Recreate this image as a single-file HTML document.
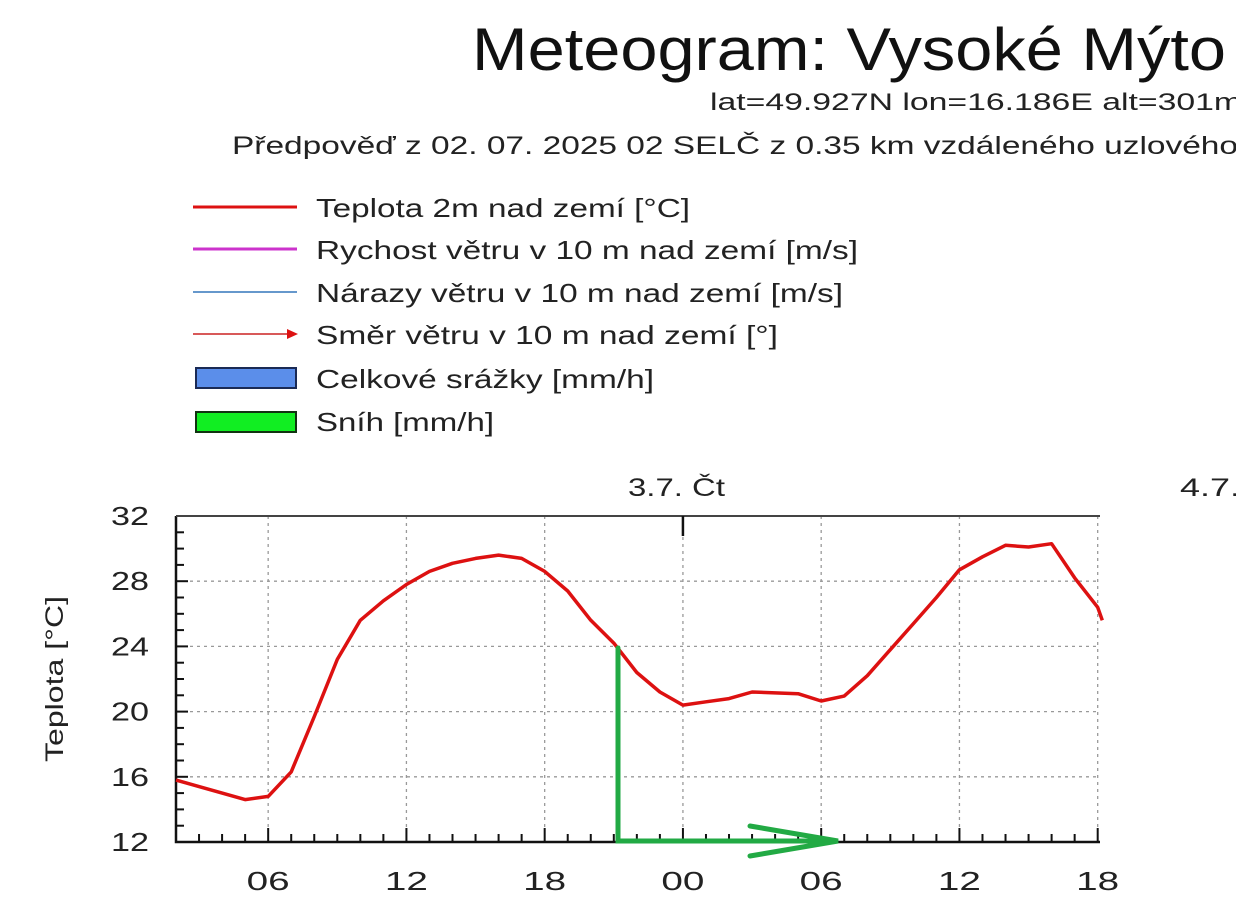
<!DOCTYPE html>
<html><head><meta charset="utf-8"><style>
body{margin:0;background:#fff;width:1236px;height:902px;overflow:hidden}
svg{font-family:"Liberation Sans",sans-serif}
</style></head><body>
<svg id="chart" width="1236" height="902" viewBox="0 0 1236 902" xmlns="http://www.w3.org/2000/svg">
<text x="472" y="70" font-size="60" fill="#111" textLength="754" lengthAdjust="spacingAndGlyphs">Meteogram: Vysoké Mýto</text>
<text x="710" y="110" font-size="24" fill="#222" textLength="532" lengthAdjust="spacingAndGlyphs">lat=49.927N lon=16.186E alt=301m</text>
<text x="232" y="154" font-size="25" fill="#222" textLength="1006" lengthAdjust="spacingAndGlyphs">Předpověď z 02. 07. 2025 02 SELČ z 0.35 km vzdáleného uzlového</text>
<g font-size="26" fill="#222">
 <g><line x1="193" y1="207" x2="297" y2="207" stroke="#dd1111" stroke-width="3"/><text x="316" y="217" textLength="374" lengthAdjust="spacingAndGlyphs">Teplota 2m nad zemí [°C]</text></g>
 <g><line x1="193" y1="249" x2="297" y2="249" stroke="#cc33cc" stroke-width="3"/><text x="316" y="259" textLength="542" lengthAdjust="spacingAndGlyphs">Rychost větru v 10 m nad zemí [m/s]</text></g>
 <g><line x1="193" y1="292" x2="297" y2="292" stroke="#3377bb" stroke-width="1.5"/><text x="316" y="302" textLength="527" lengthAdjust="spacingAndGlyphs">Nárazy větru v 10 m nad zemí [m/s]</text></g>
 <g><line x1="193" y1="334" x2="290" y2="334" stroke="#cc2222" stroke-width="1.5"/><polygon points="298,334 287,329 287,339" fill="#dd1111"/><text x="316" y="344" textLength="462" lengthAdjust="spacingAndGlyphs">Směr větru v 10 m nad zemí [°]</text></g>
 <g><rect x="196" y="368" width="100" height="20" fill="#5b8eea" stroke="#1a2a55" stroke-width="2"/><text x="316" y="388" textLength="338" lengthAdjust="spacingAndGlyphs">Celkové srážky [mm/h]</text></g>
 <g><rect x="196" y="412" width="100" height="20" fill="#11ee22" stroke="#113311" stroke-width="2"/><text x="316" y="431" textLength="178" lengthAdjust="spacingAndGlyphs">Sníh [mm/h]</text></g>
</g>
<text x="628" y="496" font-size="25" fill="#222" textLength="97" lengthAdjust="spacingAndGlyphs">3.7. Čt</text>
<text x="1180" y="496" font-size="25" fill="#222" textLength="60" lengthAdjust="spacingAndGlyphs">4.7.</text>
<text transform="translate(63,679) rotate(-90)" font-size="25" fill="#222" text-anchor="middle" textLength="166" lengthAdjust="spacingAndGlyphs">Teplota [°C]</text>
<g id="grid"></g><g id="axes"></g><g id="series"></g>
<g stroke="#22aa44" stroke-width="5" fill="none" stroke-linecap="round">
 <polyline points="618,648 618,841 835,841"/>
 <polyline points="750,826 838,841 750,856"/>
</g>
</svg>
<script>
const hours=[0,1,2,3,4,5,6,7,8,9,10,11,12,13,14,15,16,17,18,19,20,21,22,23,24,25,26,27,28,29,30,31,32,33,34,35,36,37,38,39,40,40.2];
const temps=[15.8,15.4,15.0,14.6,14.8,16.3,19.7,23.2,25.6,26.8,27.8,28.6,29.1,29.4,29.6,29.4,28.6,27.4,25.6,24.2,22.4,21.2,20.4,20.6,20.8,21.2,21.15,21.1,20.65,20.95,22.2,23.8,25.4,27.0,28.7,29.5,30.2,30.1,30.3,28.2,26.4,25.6];
const yTicks=[12,16,20,24,28,32];
const xTickLabels=["06","12","18","00","06","12","18"];
const xTickHours=[4,10,16,22,28,34,40];
const L=176,R=1100,T=516,B=842,H0=0,H1=40.1,Y0=12,Y1=32;
const x=h=>L+(h-H0)/(H1-H0)*(R-L);
const y=v=>B-(v-Y0)/(Y1-Y0)*(B-T);
const NS="http://www.w3.org/2000/svg";
function mk(tag,at,parent){const e=document.createElementNS(NS,tag);for(const k in at)e.setAttribute(k,at[k]);document.getElementById(parent).appendChild(e);return e;}
yTicks.forEach(v=>{if(v>Y0&&v<Y1){const g=mk('line',{x1:L,x2:R,y1:y(v),y2:y(v),stroke:'#999','stroke-dasharray':'3,4','stroke-width':1.3},'grid');

}});
xTickHours.forEach(h=>{const g=mk('line',{x1:x(h),x2:x(h),y1:T,y2:B,stroke:'#999','stroke-dasharray':'3,4','stroke-width':1.3},'grid');

});
const frame=mk('polyline',{points:`${L},${T} ${L},${B} ${R},${B}`,fill:'none',stroke:'#111','stroke-width':2.5},'axes');


const topB=mk('line',{x1:L,x2:R,y1:T,y2:T,stroke:'#444','stroke-width':2},'axes');


for(let v=Y0+1;v<Y1;v++){const major=(v%4===0);const t=mk('line',{x1:L,x2:L+(major?12:8),y1:y(v),y2:y(v),stroke:'#111','stroke-width':2},'axes');

}
yTicks.forEach(v=>{const t=mk('text',{x:149,y:y(v)+9,'font-size':26,'text-anchor':'end',fill:'#222',textLength:38,lengthAdjust:'spacingAndGlyphs'},'axes');t.textContent=v;

});
for(let h=1;h<=40;h++){const major=xTickHours.includes(h);const t=mk('line',{x1:x(h),x2:x(h),y1:B,y2:B-(major?14:8),stroke:'#111','stroke-width':2},'axes');

}
const mid=mk('line',{x1:x(22),x2:x(22),y1:T,y2:T+20,stroke:'#111','stroke-width':2.5},'axes');


xTickLabels.forEach((s,i)=>{const t=mk('text',{x:x(xTickHours[i]),y:890,'font-size':26,'text-anchor':'middle',fill:'#222',textLength:43,lengthAdjust:'spacingAndGlyphs'},'axes');t.textContent=s;

});
const pts=hours.map((h,i)=>x(h).toFixed(1)+','+y(temps[i]).toFixed(1)).join(' ');
const line=mk('polyline',{points:pts,fill:'none',stroke:'#dd1111','stroke-width':3.5,'stroke-linejoin':'round'},'series');


</script>
</body></html>
